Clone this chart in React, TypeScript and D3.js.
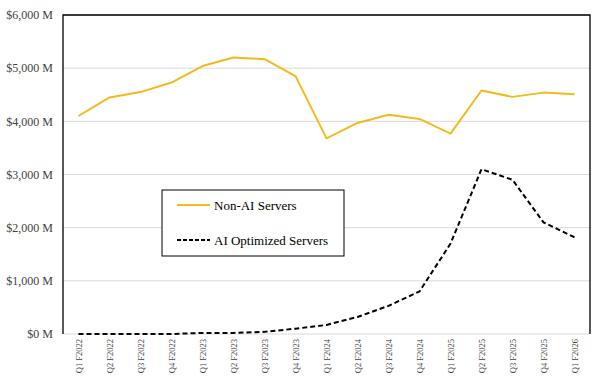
import { useEffect, useRef } from 'react'
import * as d3 from 'd3'

const quarters = [
  'Q1 F2022', 'Q2 F2022', 'Q3 F2022', 'Q4 F2022',
  'Q1 F2023', 'Q2 F2023', 'Q3 F2023', 'Q4 F2023',
  'Q1 F2024', 'Q2 F2024', 'Q3 F2024', 'Q4 F2024',
  'Q1 F2025', 'Q2 F2025', 'Q3 F2025', 'Q4 F2025',
  'Q1 F2026',
]
const nonAiServers = [4100, 4450, 4550, 4730, 5040, 5200, 5170, 4850, 3680, 3970, 4125, 4045, 3770, 4580, 4460, 4540, 4510]
const aiServers = [0, 0, 0, 0, 20, 20, 40, 100, 170, 320, 530, 800, 1700, 3100, 2900, 2100, 1820]
const yTicks = [0, 1000, 2000, 3000, 4000, 5000, 6000]

const YELLOW = '#F2BA1C'
const FONT = '"Liberation Serif", "DejaVu Serif", serif'

export default function App() {
  const svgRef = useRef<SVGSVGElement>(null)

  useEffect(() => {
    if (!svgRef.current) return
    const svg = d3.select(svgRef.current)
    svg.selectAll('*').remove()

    const width = 602
    const height = 385
    const margin = { top: 15, right: 12, bottom: 51, left: 63 }
    const innerWidth = width - margin.left - margin.right
    const innerHeight = height - margin.top - margin.bottom

    const g = svg.append('g').attr('transform', `translate(${margin.left},${margin.top})`)

    const x = d3.scaleBand().domain(quarters).range([0, innerWidth])
    const y = d3.scaleLinear().domain([0, 6000]).range([innerHeight, 0])
    const cx = (q: string) => (x(q) ?? 0) + x.bandwidth() / 2

    // Gridlines
    g.selectAll('line.grid')
      .data(yTicks)
      .enter()
      .append('line')
      .attr('x1', 0)
      .attr('x2', innerWidth)
      .attr('y1', d => y(d))
      .attr('y2', d => y(d))
      .attr('stroke', '#d9d9d9')
      .attr('stroke-width', 1)

    // Frame: left, top, right in black
    g.append('path')
      .attr('d', `M0,${innerHeight}V0H${innerWidth}V${innerHeight}`)
      .attr('fill', 'none')
      .attr('stroke', '#000')
      .attr('stroke-width', 1.3)

    // Y axis labels
    g.selectAll('text.ytick')
      .data(yTicks)
      .enter()
      .append('text')
      .attr('x', -10)
      .attr('y', d => y(d))
      .attr('dy', '0.35em')
      .attr('text-anchor', 'end')
      .attr('font-family', FONT)
      .attr('font-size', 12)
      .attr('fill', '#404040')
      .text(d => `$${d3.format(',')(d)} M`)

    // X axis labels (rotated)
    g.selectAll('text.xtick')
      .data(quarters)
      .enter()
      .append('text')
      .attr('transform', d => `translate(${cx(d) + 3},${innerHeight + 5}) rotate(-90)`)
      .attr('text-anchor', 'end')
      .attr('font-family', FONT)
      .attr('font-size', 8.5)
      .attr('fill', '#404040')
      .text(d => d)

    const line = d3.line<number>()
      .x((_, i) => cx(quarters[i]))
      .y(d => y(d))

    g.append('path')
      .datum(nonAiServers)
      .attr('d', line)
      .attr('fill', 'none')
      .attr('stroke', YELLOW)
      .attr('stroke-width', 2)
      .attr('stroke-linejoin', 'round')

    g.append('path')
      .datum(aiServers)
      .attr('d', line)
      .attr('fill', 'none')
      .attr('stroke', '#000')
      .attr('stroke-width', 2)
      .attr('stroke-dasharray', '5,3')

    // Legend
    const legend = svg.append('g').attr('transform', 'translate(162,190)')
    legend.append('rect')
      .attr('width', 182)
      .attr('height', 66)
      .attr('fill', '#fff')
      .attr('stroke', '#000')
      .attr('stroke-width', 1)
    const items = [
      { label: 'Non-AI Servers', color: YELLOW, dash: null, yy: 15 },
      { label: 'AI Optimized Servers', color: '#000', dash: '4,2', yy: 50 },
    ]
    items.forEach(it => {
      legend.append('line')
        .attr('x1', 15)
        .attr('x2', 48)
        .attr('y1', it.yy)
        .attr('y2', it.yy)
        .attr('stroke', it.color)
        .attr('stroke-width', 2)
        .attr('stroke-dasharray', it.dash)
      legend.append('text')
        .attr('x', 52)
        .attr('y', it.yy)
        .attr('dy', '0.35em')
        .attr('font-family', FONT)
        .attr('font-size', 13)
        .attr('fill', '#000')
        .text(it.label)
    })
  }, [])

  return (
    <svg
      ref={svgRef}
      width={602}
      height={385}
      style={{ position: 'absolute', left: 0, top: 0, background: '#fff' }}
    />
  )
}
